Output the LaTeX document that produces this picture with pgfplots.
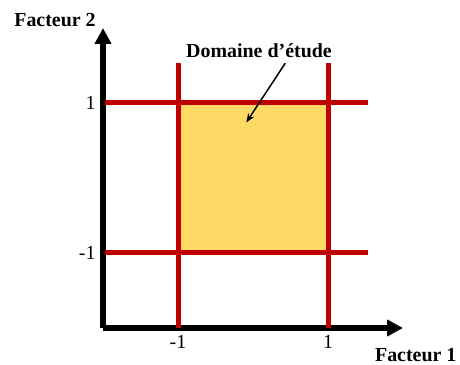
\documentclass[border=0pt]{standalone}
\usepackage{pgfplots}
\pgfplotsset{compat=1.18}
\usetikzlibrary{arrows.meta}
\usepackage{fontspec}
\setmainfont{Liberation Serif}
\definecolor{rouge}{HTML}{C00000}
\definecolor{jaune}{HTML}{FFD966}
\begin{document}
\begin{tikzpicture}
\path[use as bounding box] (0,0) rectangle (460bp,365bp);
\begin{axis}[
  at={(103bp,37bp)}, anchor=south west,
  scale only axis, width=300bp, height=300bp,
  xmin=-2, xmax=2, ymin=-2, ymax=2,
  axis lines=left,
  axis line style={line width=5bp, -{Triangle[length=16bp,width=16bp]}},
  xtick={-1,1}, xticklabels={-1,1},
  ytick={-1,1}, yticklabels={-1,1},
  major tick length=0pt,
  ticklabel style={font=\fontsize{20}{24}\selectfont},
  xticklabel style={yshift=-4bp},
  yticklabel style={xshift=-4bp},
  clip=false,
]
% domaine d'etude
\addplot[draw=none, fill=jaune] coordinates {(-1,-1) (1,-1) (1,1) (-1,1)} -- cycle;
% niveaux -1 et +1
\addplot[rouge, line width=5bp] coordinates {(-1,-2) (-1,1.53)};
\addplot[rouge, line width=5bp] coordinates {(1,-2) (1,1.53)};
\addplot[rouge, line width=5bp] coordinates {(-1.97,1) (1.53,1)};
\addplot[rouge, line width=5bp] coordinates {(-1.97,-1) (1.53,-1)};
% fleche
\addplot[black, line width=1.5bp, -{Stealth[length=9bp,width=7bp]}] coordinates {(0.43,1.53) (-0.09,0.74)};
\node[font=\fontsize{20}{24}\selectfont\bfseries] at (axis cs:0.08,1.70) {Domaine d’étude};
\node[font=\fontsize{20}{24}\selectfont\bfseries] at (axis cs:-2.64,2.10) {Facteur 2};
\node[font=\fontsize{20}{24}\selectfont\bfseries] at (axis cs:2.17,-2.36) {Facteur 1};
\end{axis}
\end{tikzpicture}
\end{document}
